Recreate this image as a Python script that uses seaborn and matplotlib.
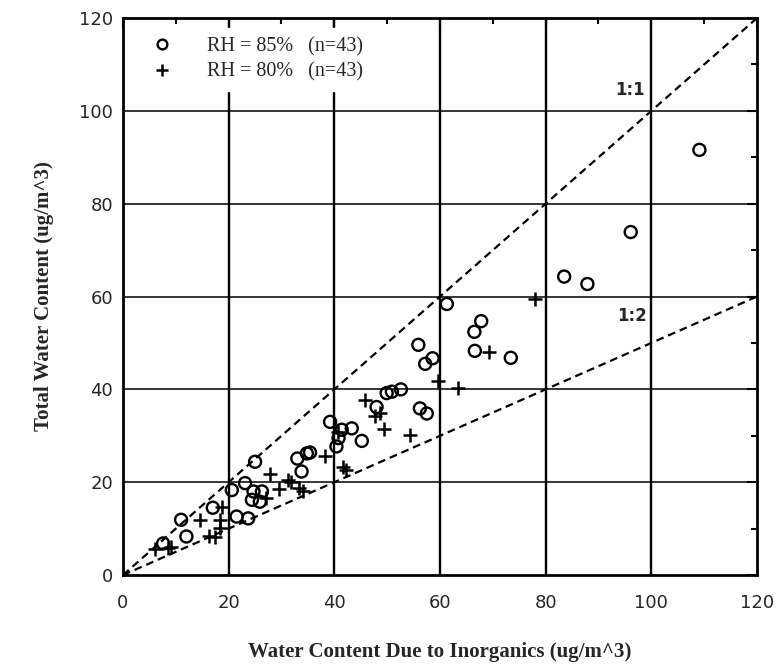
import matplotlib
matplotlib.use("Agg")
import matplotlib.pyplot as plt
import seaborn as sns
from matplotlib.lines import Line2D
from matplotlib.ticker import MultipleLocator

# RH = 85% (open circles)
rh85_x = [109.1, 96.1, 83.5, 87.9, 61.3, 67.8, 66.5, 66.6, 73.4, 55.9,
          57.2, 58.6, 49.9, 50.9, 52.6, 56.2, 57.5, 48.0, 39.2, 41.4,
          43.3, 40.8, 40.4, 45.2, 35.4, 33.0, 33.8, 34.8, 25.0, 23.1,
          20.6, 24.7, 26.3, 24.4, 25.9, 17.0, 21.5, 23.7, 11.0, 12.0,
          7.6]
rh85_y = [91.6, 73.9, 64.3, 62.7, 58.4, 54.7, 52.4, 48.3, 46.8, 49.6,
          45.5, 46.7, 39.2, 39.5, 40.0, 35.9, 34.8, 36.2, 33.0, 31.3,
          31.6, 29.5, 27.7, 28.9, 26.4, 25.1, 22.3, 26.2, 24.4, 19.8,
          18.3, 18.0, 18.0, 16.2, 15.8, 14.5, 12.6, 12.2, 11.9, 8.3,
          6.8]

# RH = 80% (plus signs)
rh80_x = [77.9, 69.3, 59.7, 63.5, 45.8, 47.7, 48.6, 49.4, 54.4, 41.7,
          42.2, 38.2, 27.8, 31.3, 31.8, 29.5, 33.4, 34.0, 18.7, 14.5,
          18.3, 18.4, 16.3, 17.4, 9.0, 6.0, 8.6, 27.0, 40.7]
rh80_y = [59.4, 48.0, 41.7, 40.2, 37.7, 34.3, 35.0, 31.4, 30.2, 23.3,
          22.6, 25.6, 21.8, 20.5, 20.0, 18.5, 18.7, 18.0, 14.7, 11.8,
          11.9, 10.2, 8.5, 8.2, 6.0, 5.5, 5.9, 16.5, 30.9]

# reference ratio lines
ref_x = [0, 120]
ratios = [1.0, 0.5]
ratio_labels = ["1:1", "1:2"]
grid_ticks = [20, 40, 60, 80, 100]

LABEL_FONT = "Liberation Serif"
TICK_FONT = "DejaVu Sans"


def main() -> None:
    sns.set_theme(style="white")
    plt.rcParams["font.family"] = [LABEL_FONT, "DejaVu Sans"]

    fig = plt.figure(figsize=(7.76, 6.67), dpi=100)
    ax = fig.add_axes([0.1585, 0.1379, 0.817, 0.835])

    for v in grid_ticks:
        ax.axvline(v, color="black", lw=1.7, zorder=1)
        ax.axhline(v, color="black", lw=1.1, zorder=1)

    for r in ratios:
        sns.lineplot(x=ref_x, y=[x * r for x in ref_x], ax=ax, color="black",
                     lw=1.6, linestyle=(0, (3.5, 2.2)), zorder=2)

    ax.text(98.8, 102.6, ratio_labels[0], ha="right", va="bottom",
            fontsize=12, fontweight="bold", family=TICK_FONT)
    ax.text(99.2, 53.8, ratio_labels[1], ha="right", va="bottom",
            fontsize=12, fontweight="bold", family=TICK_FONT)

    sns.scatterplot(x=rh85_x, y=rh85_y, ax=ax, marker="o", s=75,
                    facecolor="none", edgecolor="black", linewidth=1.7,
                    zorder=3)
    sns.scatterplot(x=rh80_x, y=rh80_y, ax=ax, marker="+", s=110,
                    color="black", linewidth=1.8, zorder=3)

    ax.set_xlim(0, 120)
    ax.set_ylim(0, 120)
    ax.xaxis.set_major_locator(MultipleLocator(20))
    ax.yaxis.set_major_locator(MultipleLocator(20))
    ax.xaxis.set_minor_locator(MultipleLocator(10))
    ax.yaxis.set_minor_locator(MultipleLocator(10))
    ax.tick_params(which="both", direction="in", top=True, right=True,
                   color="black", width=1.5)
    ax.tick_params(which="major", length=7)
    ax.tick_params(which="minor", length=4)
    ax.tick_params(axis="x", which="major", pad=14, labelsize=13)
    ax.tick_params(axis="y", which="major", pad=7, labelsize=13)
    for lab in ax.get_xticklabels() + ax.get_yticklabels():
        lab.set_family(TICK_FONT)

    for sp in ax.spines.values():
        sp.set_color("black")
        sp.set_linewidth(2.0)

    ax.set_xlabel("Water Content Due to Inorganics (ug/m^3)", fontsize=15,
                  fontweight="bold", labelpad=21)
    ax.set_ylabel("Total Water Content (ug/m^3)", fontsize=15,
                  fontweight="bold", labelpad=18)

    handles = [
        Line2D([], [], marker="o", ls="none", mfc="none", mec="black",
               mew=1.7, ms=7),
        Line2D([], [], marker="+", ls="none", color="black", mew=1.8, ms=9),
    ]
    leg = ax.legend(handles, ["RH = 85%   (n=43)", "RH = 80%   (n=43)"],
                    loc="upper left", fontsize=14.5, frameon=True,
                    facecolor="white", edgecolor="white", framealpha=1,
                    fancybox=False, handletextpad=1.2, labelspacing=0.3,
                    borderaxespad=0.5, borderpad=0.45)
    leg.set_zorder(5)

    fig.savefig("out.png", dpi=100)
    plt.close(fig)


if __name__ == "__main__":
    main()
